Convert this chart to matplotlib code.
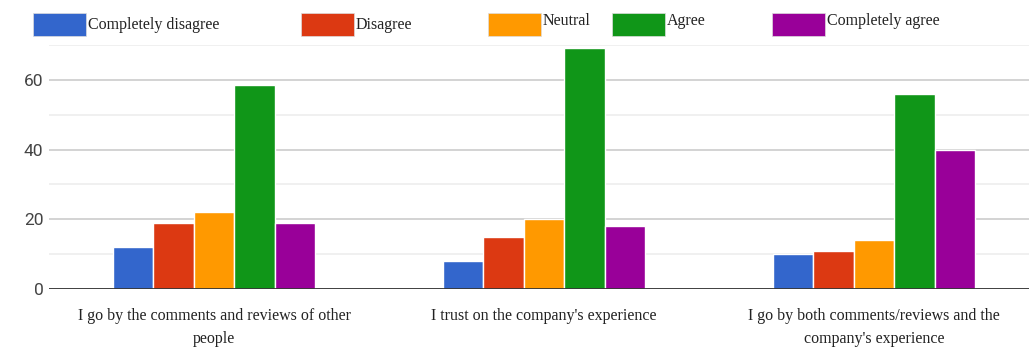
import numpy as np
import matplotlib.pyplot as plt
from matplotlib.patches import Rectangle

# Survey responses per statement
statements = [
    "I go by the comments and reviews of other\npeople",
    "I trust on the company's experience",
    "I go by both comments/reviews and the\ncompany's experience",
]
responses = ["Completely disagree", "Disagree", "Neutral", "Agree", "Completely agree"]
completely_disagree = [12, 8, 10]
disagree = [19, 15, 11]
neutral = [22, 20, 14]
agree = [58.5, 69, 56]
completely_agree = [19, 18, 40]
series = [completely_disagree, disagree, neutral, agree, completely_agree]
colors = ["#3366cc", "#dc3912", "#ff9900", "#109618", "#990099"]

W, H = 1029, 347
fig = plt.figure(figsize=(W / 100, H / 100), dpi=100)
ax = fig.add_axes([49 / W, 58 / H, 990 / W, 244 / H])

x = np.arange(len(statements))
bw = 0.615 / len(series)
for i, (vals, c) in enumerate(zip(series, colors)):
    ax.bar(x + (i - 2) * bw, vals, width=bw, color=c, edgecolor="white",
           linewidth=1, zorder=3)

ax.set_xlim(-0.5, 2.5)
ax.set_ylim(0, 70)
ax.set_yticks([0, 20, 40, 60])
ax.set_yticks([10, 30, 50, 70], minor=True)
ax.grid(axis="y", which="major", color="#cccccc", linewidth=1.2, zorder=0)
ax.grid(axis="y", which="minor", color="#ededed", linewidth=1.2, zorder=0)
ax.axhline(0, color="#333333", linewidth=2, zorder=4)
for s in ax.spines.values():
    s.set_visible(False)
ax.tick_params(axis="both", which="both", length=0)
ax.tick_params(axis="y", labelsize=12.5, labelcolor="#444444", pad=4)
for t in ax.get_yticklabels():
    t.set_family("Roboto")

ax.set_xticks(x)
ax.set_xticklabels(statements, family="Liberation Serif", fontsize=11.5,
                   color="#222222", linespacing=1.55)
ax.tick_params(axis="x", pad=14)

# legend row across the top
legend_x = [33, 301, 488, 612, 772]
legend_text_y = [25, 25, 21, 21, 21]
for lx, ty, lab, c in zip(legend_x, legend_text_y, responses, colors):
    fig.patches.append(Rectangle((lx / W, 1 - 36 / H), 53 / W, 23 / H,
                                 transform=fig.transFigure, facecolor=c,
                                 edgecolor="#dddddd", linewidth=0.5))
    fig.text((lx + 55) / W, 1 - ty / H, lab, family="Liberation Serif",
             fontsize=11.5, color="#222222", va="center", ha="left")

fig.savefig("out.png", dpi=100, facecolor="white")
